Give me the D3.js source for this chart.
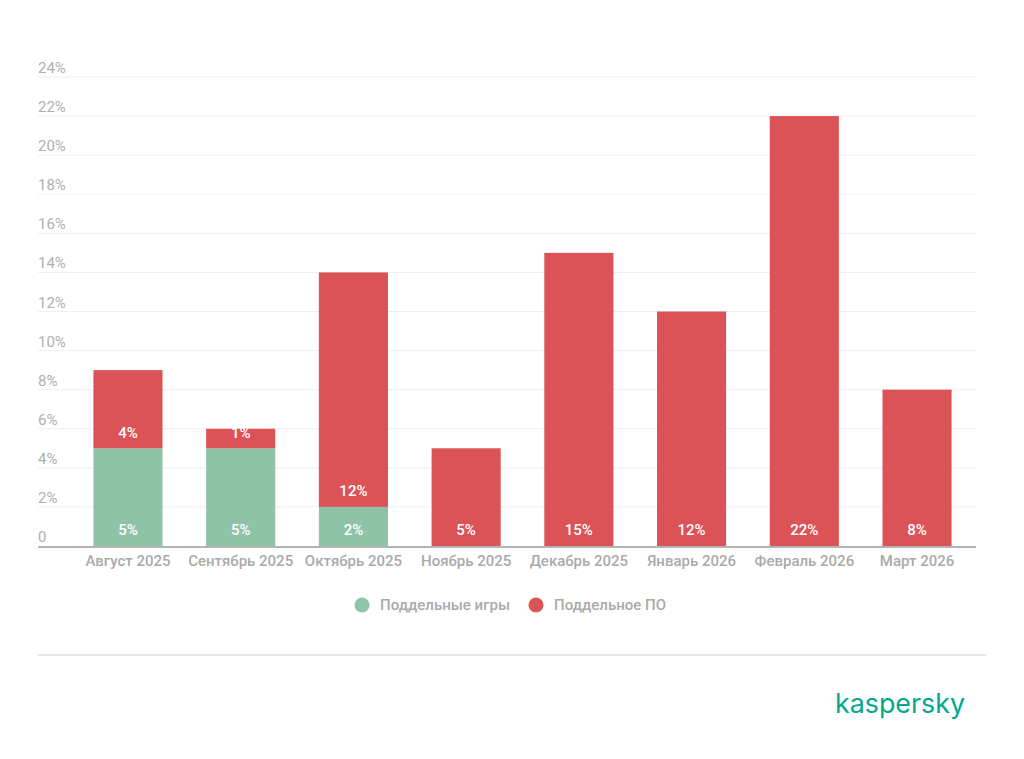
<!DOCTYPE html>
<html>
<head>
<meta charset="utf-8">
<script src="https://cdn.jsdelivr.net/npm/d3@7"></script>
<style>
  body { margin: 0; background: #fff; }
  svg { display: block; font-family: Roboto, "Noto Sans", sans-serif; }
</style>
</head>
<body>
<svg id="chart" width="1024" height="759"></svg>
<script>

var months = ['Август 2025', 'Сентябрь 2025', 'Октябрь 2025', 'Ноябрь 2025',
              'Декабрь 2025', 'Январь 2026', 'Февраль 2026', 'Март 2026'];
var games = [5, 5, 2, 0, 0, 0, 0, 0];
var software = [4, 1, 12, 5, 15, 12, 22, 8];
var series_names = ['Поддельные игры', 'Поддельное ПО'];
var series_colors = ['#8fc3a8', '#db5356'];
var y_ticks = [0, 2, 4, 6, 8, 10, 12, 14, 16, 18, 20, 22, 24];

function draw_chart(){

    var svg = d3.select('#chart');

    var x = d3.scaleBand().domain(months).range([72, 973]).paddingInner(0.387).paddingOuter(0.19);
    var y = d3.scaleLinear().domain([0, 24]).range([546, 77]);

    // grid lines + tick labels
    var grid = svg.append('g');
    grid.selectAll('line').data(y_ticks.slice(1)).enter().append('line')
        .attr('x1', 38).attr('x2', 976)
        .attr('y1', function(d){ return y(d); }).attr('y2', function(d){ return y(d); })
        .attr('stroke', '#efefef').attr('stroke-width', 1);
    grid.selectAll('text').data(y_ticks).enter().append('text')
        .attr('x', 38).attr('y', function(d){ return y(d) - 4; })
        .style('fill', '#b0b0b0').style('font-size', '15px')
        .text(function(d){ return d === 0 ? '0' : d + '%'; });

    // stacked bars
    var rows = months.map(function(m, i){ return {month: m, games: games[i], software: software[i]}; });
    var stacked = d3.stack().keys(['games', 'software'])(rows);

    stacked.forEach(function(layer, k){
        var g = svg.append('g');
        layer.forEach(function(d, i){
            if (d[1] - d[0] <= 0) return;
            g.append('rect')
                .attr('x', x(months[i])).attr('width', x.bandwidth())
                .attr('y', y(d[1])).attr('height', y(d[0]) - y(d[1]))
                .attr('fill', series_colors[k]);
            g.append('text')
                .attr('x', x(months[i]) + x.bandwidth() / 2)
                .attr('y', y(d[0]) - 16)
                .attr('dy', '.35em')
                .attr('text-anchor', 'middle')
                .style('fill', '#fff').style('font-size', '15px').style('font-weight', 500)
                .text((d[1] - d[0]) + '%');
        });
    });

    // baseline
    svg.append('line').attr('x1', 38).attr('x2', 976).attr('y1', y(0) + 1).attr('y2', y(0) + 1)
        .attr('stroke', '#b4b4b4').attr('stroke-width', 2);

    // category labels
    svg.append('g').selectAll('text').data(months).enter().append('text')
        .attr('x', function(d){ return x(d) + x.bandwidth() / 2; })
        .attr('y', 566)
        .attr('text-anchor', 'middle')
        .style('fill', '#aaaaaa').style('font-size', '15px').style('font-weight', 500)
        .text(function(d){ return d; });

    // legend
    var legend_x = [362, 536];
    series_names.forEach(function(name, k){
        svg.append('circle').attr('cx', legend_x[k]).attr('cy', 605).attr('r', 7.5)
            .attr('fill', series_colors[k]);
        svg.append('text').attr('x', legend_x[k] + 18).attr('y', 610)
            .style('fill', '#aaaaaa').style('font-size', '15px').style('font-weight', 500)
            .text(name);
    });

    // separator
    svg.append('line').attr('x1', 38).attr('x2', 986).attr('y1', 655).attr('y2', 655)
        .attr('stroke', '#dcdcdc').attr('stroke-width', 1.5);

    // logo
    svg.append('text').attr('x', 835).attr('y', 713)
        .attr('textLength', 130).attr('lengthAdjust', 'spacingAndGlyphs')
        .style('fill', '#00a88e').style('font-size', '27px').style('font-family', 'Inter, Roboto, sans-serif')
        .style('font-weight', 400)
        .text('kaspersky');
}

draw_chart();

</script>
</body>
</html>
